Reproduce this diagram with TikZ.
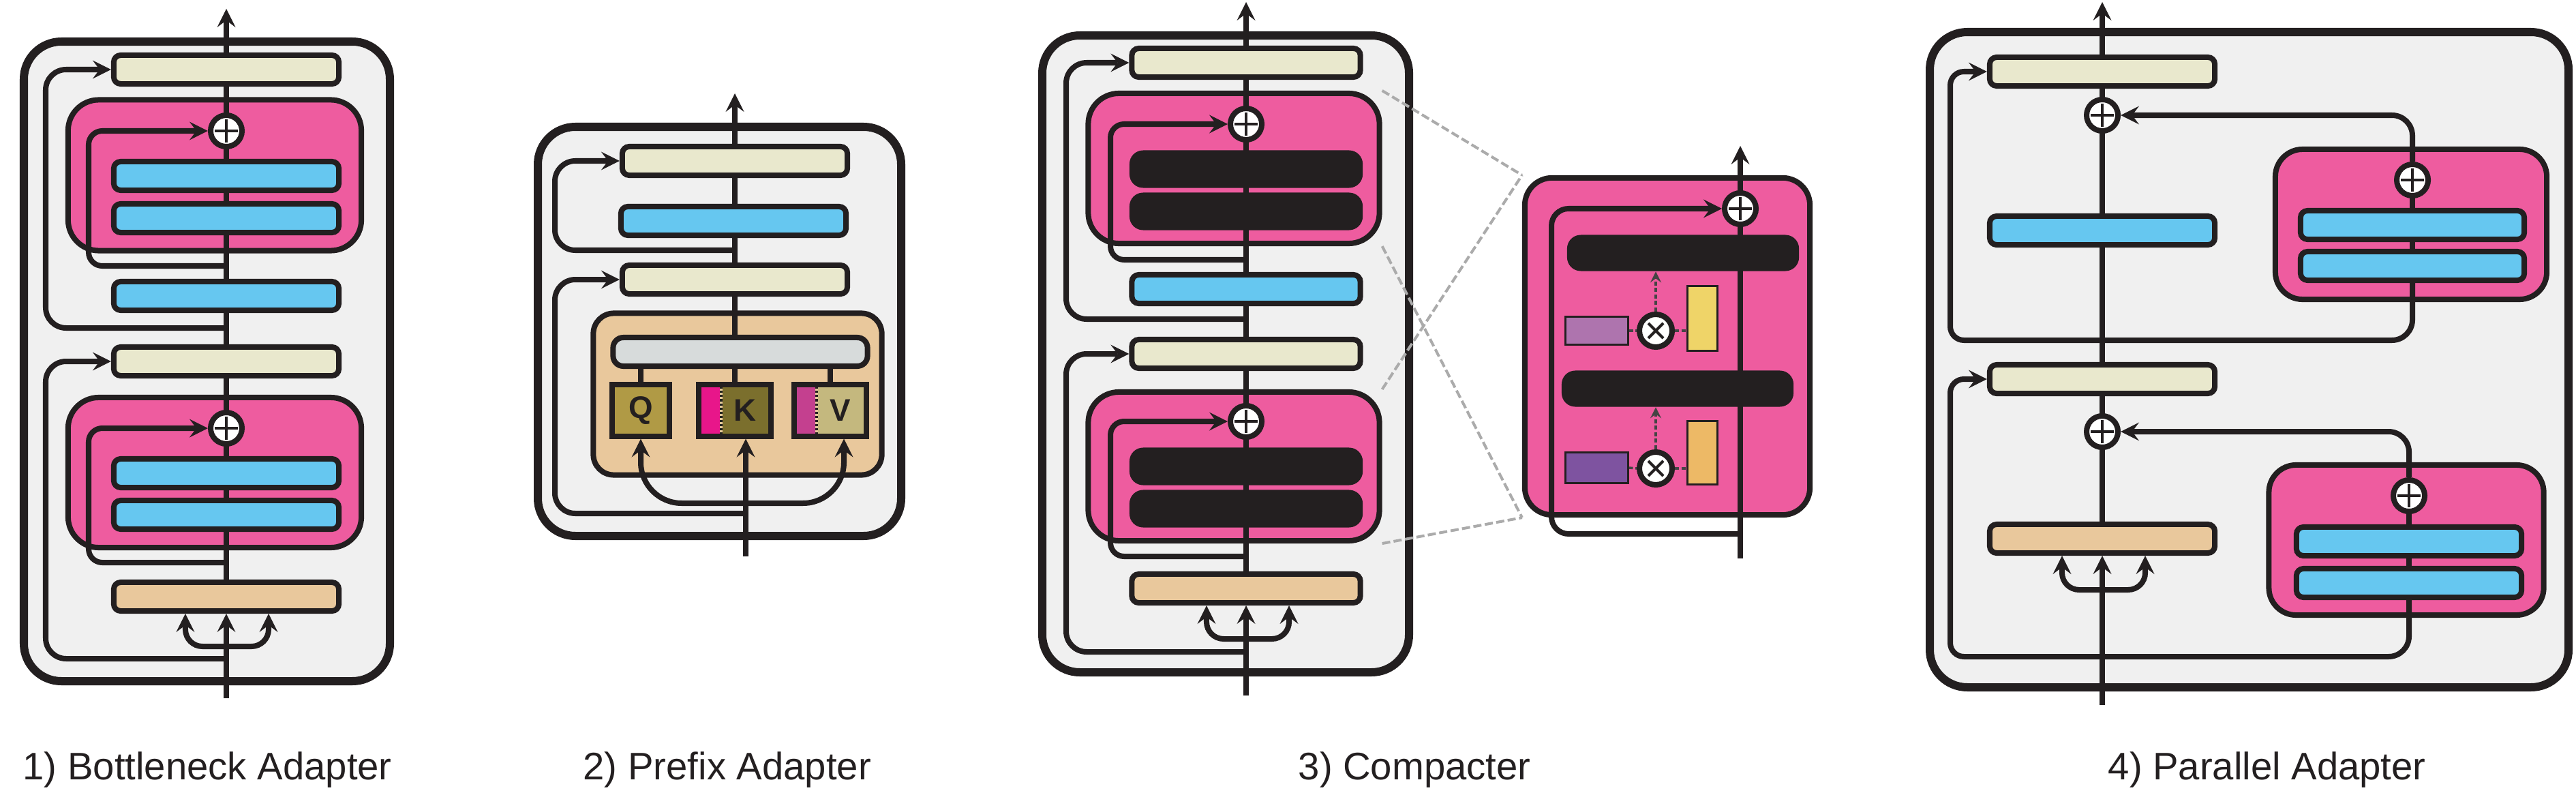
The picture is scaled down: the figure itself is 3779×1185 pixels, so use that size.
\documentclass[tikz,border=0pt]{standalone}
\usepackage{fontspec}
\setmainfont{Liberation Sans}
\usepackage{tikz}
\usetikzlibrary{arrows,shapes,positioning,calc}
\definecolor{ink}{HTML}{231F20}
\definecolor{paper}{HTML}{F0F0F0}
\definecolor{lnCream}{HTML}{E9E8CD}
\definecolor{ffBlue}{HTML}{66C7F0}
\definecolor{attnTan}{HTML}{E9C89C}
\definecolor{adPink}{HTML}{EE5C9F}
\definecolor{barGrey}{HTML}{D7DBDB}
\definecolor{qOlive}{HTML}{B09A45}
\definecolor{kOlive}{HTML}{7B6F2D}
\definecolor{vOlive}{HTML}{C4B87E}
\definecolor{kMag}{HTML}{E8168A}
\definecolor{vMag}{HTML}{C4408F}
\definecolor{lilac}{HTML}{AE74AE}
\definecolor{violet}{HTML}{7E53A0}
\definecolor{sunYellow}{HTML}{EFD468}
\definecolor{sunOrange}{HTML}{EDB966}
\definecolor{dashInk}{HTML}{444444}
\definecolor{zoomGrey}{HTML}{ABABAB}
\pgfdeclarelayer{bg}
\pgfdeclarelayer{zl}
\pgfdeclarelayer{ad}
\pgfdeclarelayer{mid}
\pgfsetlayers{bg,zl,ad,mid,main}
\tikzstyle{panel} = [draw=ink, line width=0.12cm, fill=paper, rounded corners=0.55cm]
\tikzstyle{blk} = [rectangle, draw=ink, line width=0.08cm, rounded corners=0.1cm, minimum width=3.3cm, minimum height=0.42cm, inner sep=0pt]
\tikzstyle{ln} = [blk, fill=lnCream]
\tikzstyle{ff} = [blk, fill=ffBlue]
\tikzstyle{attn} = [blk, fill=attnTan]
\tikzstyle{phm} = [rectangle, fill=ink, rounded corners=0.2cm, minimum width=3.42cm, minimum height=0.55cm, inner sep=0pt]
\tikzstyle{adapter} = [rectangle, draw=ink, line width=0.08cm, fill=adPink, rounded corners=0.45cm, inner sep=0pt]
\tikzstyle{slot} = [rectangle, draw=ink, line width=0.03cm, inner sep=0pt]
\tikzstyle{addop} = [circle, draw=ink, line width=0.08cm, fill=white, minimum size=0.46cm, inner sep=0pt,
  path picture={\draw[ink, line width=0.04cm]
    ([xshift=-0.17cm]path picture bounding box.center) -- ([xshift=0.17cm]path picture bounding box.center)
    ([yshift=-0.17cm]path picture bounding box.center) -- ([yshift=0.17cm]path picture bounding box.center);}]
\tikzstyle{mulop} = [circle, draw=ink, line width=0.08cm, fill=white, minimum size=0.48cm, inner sep=0pt,
  path picture={\draw[ink, line width=0.04cm]
    ([shift={(-0.11cm,-0.11cm)}]path picture bounding box.center) -- ([shift={(0.11cm,0.11cm)}]path picture bounding box.center)
    ([shift={(-0.11cm,0.11cm)}]path picture bounding box.center) -- ([shift={(0.11cm,-0.11cm)}]path picture bounding box.center);}]
\tikzstyle{qkv} = [rectangle, draw=ink, line width=0.08cm, minimum height=0.75cm, inner sep=0pt, text=ink, font=\fontsize{13}{15}\selectfont\bfseries]
\tikzset{prefixed/.style={path picture={
  \fill[#1] (path picture bounding box.south west) rectangle ([xshift=0.3cm]path picture bounding box.north west);
  \draw[ink, line width=0.04cm] ([xshift=0.32cm]path picture bounding box.south west) -- ([xshift=0.32cm]path picture bounding box.north west);
  \draw[attnTan, line width=0.04cm, dash pattern=on 0.03cm off 0.03cm] ([xshift=0.32cm]path picture bounding box.south west) -- ([xshift=0.32cm]path picture bounding box.north west);}}}
\tikzstyle{wire} = [draw=ink, line width=0.08cm, rounded corners=0.3cm]
\tikzstyle{arrow} = [wire, ->, >=stealth]
\tikzstyle{hint} = [draw=dashInk, line width=0.035cm, dash pattern=on 0.06cm off 0.035cm]
\tikzstyle{zoomln} = [draw=zoomGrey, line width=0.04cm, dash pattern=on 0.12cm off 0.05cm]
\tikzstyle{caption} = [anchor=base west, inner sep=0pt, text=ink, font=\fontsize{16}{19}\selectfont]

\begin{document}
\begin{tikzpicture}[x=0.01cm, y=-0.01cm]
\useasboundingbox (0,0) rectangle (3779,1185);

% outer frames
\begin{pgfonlayer}{bg}
\draw[panel] (35,61) rectangle (572,999);
\draw[panel] (789,186) rectangle (1322,786);
\draw[panel] (1529,52) rectangle (2067,986);
\draw[panel] (2831,47) rectangle (3768,1008);
\end{pgfonlayer}

% 1) bottleneck
\begin{pgfonlayer}{ad}
\node[adapter, minimum width=4.3cm, minimum height=2.21cm] (ad1top) at (315,257) {};
\node[adapter, minimum width=4.3cm, minimum height=2.2cm] (ad1bot) at (315,693) {};
\end{pgfonlayer}
\node[ln] (n1top) at (332,102) {};
\node[addop] (p1top) at (332,192) {};
\node[ff] (f1a) at (332,258) {};
\node[ff] (f1b) at (332,320) {};
\node[ff] (f1c) at (332,434) {};
\node[ln] (n1bot) at (332,530) {};
\node[addop] (p1bot) at (332,628) {};
\node[ff] (f1d) at (332,694) {};
\node[ff] (f1e) at (332,755) {};
\node[attn] (a1) at (332,875) {};
\coordinate (in1) at (332,1024);
\coordinate (out1) at (332,13);
\coordinate (b1) at (332,948);
\coordinate (t1a) at (332,390);
\coordinate (t1b) at (332,481);
\coordinate (t1c) at (332,825);
\coordinate (t1d) at (332,966);
\begin{pgfonlayer}{mid}
\draw[arrow] (a1.north) -- (out1);
\draw[arrow] (in1) -- (a1.south);
\draw[arrow, rounded corners=0.25cm] (b1) -| ([xshift=-0.6cm]a1.south);
\draw[arrow, rounded corners=0.25cm] (b1) -| ([xshift=0.62cm]a1.south);
\draw[arrow, rounded corners=0.2cm] (t1a) -- ++(-202,0) |- (p1top.west);
\draw[arrow] (t1b) -- ++(-265,0) |- (n1top.west);
\draw[arrow, rounded corners=0.2cm] (t1c) -- ++(-202,0) |- (p1bot.west);
\draw[arrow] (t1d) -- ++(-265,0) |- (n1bot.west);
\end{pgfonlayer}

% 2) prefix
\begin{pgfonlayer}{ad}
\node[rectangle, draw=ink, line width=0.08cm, fill=attnTan, rounded corners=0.3cm, minimum width=4.23cm, minimum height=2.37cm] (a2) at (1082,578) {};
\end{pgfonlayer}
\node[ln] (n2top) at (1078,236) {};
\node[ff] (f2) at (1076,324) {};
\node[ln] (n2bot) at (1078,410) {};
\node[blk, fill=barGrey, minimum width=3.73cm, rounded corners=0.15cm] (mix2) at (1086,516) {};
\node[qkv, fill=qOlive, minimum width=0.84cm] (q2) at (940,602) {Q};
\node[qkv, fill=kOlive, minimum width=1.05cm, prefixed=kMag] (k2) at (1078,602) {\hspace*{0.3cm}K};
\node[qkv, fill=vOlive, minimum width=1.05cm, prefixed=vMag] (v2) at (1218,602) {\hspace*{0.3cm}V};
\coordinate (in2) at (1094,816);
\coordinate (out2) at (1078,137);
\coordinate (b2) at (1094,738);
\coordinate (t2a) at (1078,367);
\coordinate (t2b) at (1094,753);
\begin{pgfonlayer}{mid}
\draw[arrow] (mix2.north -| out2) -- (out2);
\draw[wire] (q2.north) -- (q2.north |- mix2.south);
\draw[wire] (k2.north) -- (k2.north |- mix2.south);
\draw[wire] (v2.north) -- (v2.north |- mix2.south);
\draw[arrow] (in2) -- (in2 |- k2.south);
\draw[arrow, rounded corners=0.6cm] (b2) -| (q2.south);
\draw[arrow, rounded corners=0.6cm] (b2) -| ([xshift=0.2cm]v2.south);
\draw[arrow] (t2a) -- ++(-264,0) |- (n2top.west);
\draw[arrow] (t2b) -- ++(-280,0) |- (n2bot.west);
\end{pgfonlayer}

% 3) compacter
\begin{pgfonlayer}{ad}
\node[adapter, minimum width=4.27cm, minimum height=2.2cm] (ad3top) at (1810,247) {};
\node[adapter, minimum width=4.27cm, minimum height=2.18cm] (ad3bot) at (1810,684) {};
\node[adapter, rounded corners=0.4cm, minimum width=4.18cm, minimum height=4.94cm] (phmzoom) at (2446,508) {};
\end{pgfonlayer}
\node[ln, minimum width=3.35cm] (n3top) at (1828,92) {};
\node[addop] (p3top) at (1828,182) {};
\node[phm] (h3a) at (1828,248) {};
\node[phm] (h3b) at (1828,310) {};
\node[ff, minimum width=3.35cm] (f3) at (1828,424) {};
\node[ln, minimum width=3.35cm] (n3bot) at (1828,519) {};
\node[addop] (p3bot) at (1828,618) {};
\node[phm] (h3c) at (1828,684) {};
\node[phm] (h3d) at (1828,746) {};
\node[attn, minimum width=3.35cm] (a3) at (1828,863) {};
\coordinate (in3) at (1828,1020);
\coordinate (out3) at (1828,3);
\coordinate (b3) at (1828,937);
\coordinate (t3a) at (1828,381);
\coordinate (t3b) at (1828,468);
\coordinate (t3c) at (1828,816);
\coordinate (t3d) at (1828,956);
\begin{pgfonlayer}{mid}
\draw[arrow] (a3.north) -- (out3);
\draw[arrow] (in3) -- (a3.south);
\draw[arrow, rounded corners=0.25cm] (b3) -| ([xshift=-0.58cm]a3.south);
\draw[arrow, rounded corners=0.25cm] (b3) -| ([xshift=0.63cm]a3.south);
\draw[arrow, rounded corners=0.2cm] (t3a) -- ++(-199,0) |- (p3top.west);
\draw[arrow] (t3b) -- ++(-264,0) |- (n3top.west);
\draw[arrow, rounded corners=0.2cm] (t3c) -- ++(-199,0) |- (p3bot.west);
\draw[arrow] (t3d) -- ++(-264,0) |- (n3bot.west);
\end{pgfonlayer}

% phm layer close-up
\node[addop] (zp) at (2553,306) {};
\node[phm, minimum width=3.4cm, minimum height=0.53cm] (zh1) at (2469,371) {};
\node[phm, minimum width=3.4cm, minimum height=0.53cm] (zh2) at (2461,570) {};
\node[slot, fill=lilac, minimum width=0.92cm, minimum height=0.41cm] (za1) at (2342,485) {};
\node[mulop] (zm1) at (2429,485) {};
\node[slot, fill=sunYellow, minimum width=0.44cm, minimum height=0.94cm] (zb1) at (2497,467) {};
\node[slot, fill=violet, minimum width=0.92cm, minimum height=0.45cm] (za2) at (2342,686) {};
\node[mulop] (zm2) at (2429,687) {};
\node[slot, fill=sunOrange, minimum width=0.44cm, minimum height=0.93cm] (zb2) at (2497,664) {};
\coordinate (zin) at (2553,819);
\coordinate (zout) at (2553,214);
\coordinate (zt) at (2553,783);
\begin{pgfonlayer}{mid}
\draw[arrow] (zin) -- (zout);
\draw[arrow, rounded corners=0.25cm] (zt) -- ++(-277,0) |- (zp.west);
\draw[hint] (za1.east) -- (zm1.west);
\draw[hint] (zm1.east) -- (zm1.east -| zb1.west);
\draw[hint, ->, >=stealth] (zm1.north) -- (zm1.north |- zh1.south);
\draw[hint] (za2.east) -- (zm2.west);
\draw[hint] (zm2.east) -- (zm2.east -| zb2.west);
\draw[hint, ->, >=stealth] (zm2.north) -- (zm2.north |- zh2.south);
\end{pgfonlayer}
\begin{pgfonlayer}{zl}
\draw[zoomln] (ad3top.north east) -- (phmzoom.north west);
\draw[zoomln] (ad3top.south east) -- (phmzoom.south west);
\draw[zoomln] (ad3bot.north east) -- (phmzoom.north west);
\draw[zoomln] (ad3bot.south east) -- (phmzoom.south west);
\end{pgfonlayer}

% 4) parallel
\begin{pgfonlayer}{ad}
\node[adapter, rounded corners=0.4cm, minimum width=3.98cm, minimum height=2.2cm] (ad4top) at (3537,329) {};
\node[adapter, rounded corners=0.4cm, minimum width=4.03cm, minimum height=2.2cm] (ad4bot) at (3530,792) {};
\end{pgfonlayer}
\node[ln] (n4top) at (3084,105) {};
\node[addop] (p4a) at (3084,169) {};
\node[ff] (f4) at (3084,338) {};
\node[ln] (n4bot) at (3084,556) {};
\node[addop] (p4c) at (3084,633) {};
\node[attn] (a4) at (3084,790) {};
\node[addop] (p4b) at (3539,264) {};
\node[ff, minimum width=3.28cm] (f4a) at (3539,330) {};
\node[ff, minimum width=3.28cm] (f4b) at (3539,390) {};
\node[addop] (p4d) at (3534,727) {};
\node[ff] (f4c) at (3534,794) {};
\node[ff] (f4d) at (3534,855) {};
\coordinate (in4) at (3084,1034);
\coordinate (out4) at (3084,3);
\coordinate (b4) at (3084,865);
\coordinate (t4a) at (3084,499);
\coordinate (t4b) at (3084,963);
\begin{pgfonlayer}{mid}
\draw[arrow] (a4.north) -- (out4);
\draw[arrow] (in4) -- (a4.south);
\draw[arrow, rounded corners=0.25cm] (b4) -| ([xshift=-0.59cm]a4.south);
\draw[arrow, rounded corners=0.25cm] (b4) -| ([xshift=0.63cm]a4.south);
\draw[arrow, rounded corners=0.2cm] (t4a) -- ++(-223,0) |- (n4top.west);
\draw[wire] (t4a) -| (f4b.south);
\draw[wire] (f4b.center) -- (p4b.center);
\draw[arrow] (p4b.north) |- (p4a.east);
\draw[arrow, rounded corners=0.2cm] (t4b) -- ++(-223,0) |- (n4bot.west);
\draw[wire] (t4b) -| (f4d.south);
\draw[wire] (f4d.center) -- (p4d.center);
\draw[arrow] (p4d.north) |- (p4c.east);
\end{pgfonlayer}

% captions
\node[caption] (cap1) at (33,1143) {1) Bottleneck Adapter};
\node[caption] (cap2) at (855,1143) {2) Prefix Adapter};
\node[caption] (cap3) at (1904,1143) {3) Compacter};
\node[caption] (cap4) at (3092,1143) {4) Parallel Adapter};
\end{tikzpicture}
\end{document}
